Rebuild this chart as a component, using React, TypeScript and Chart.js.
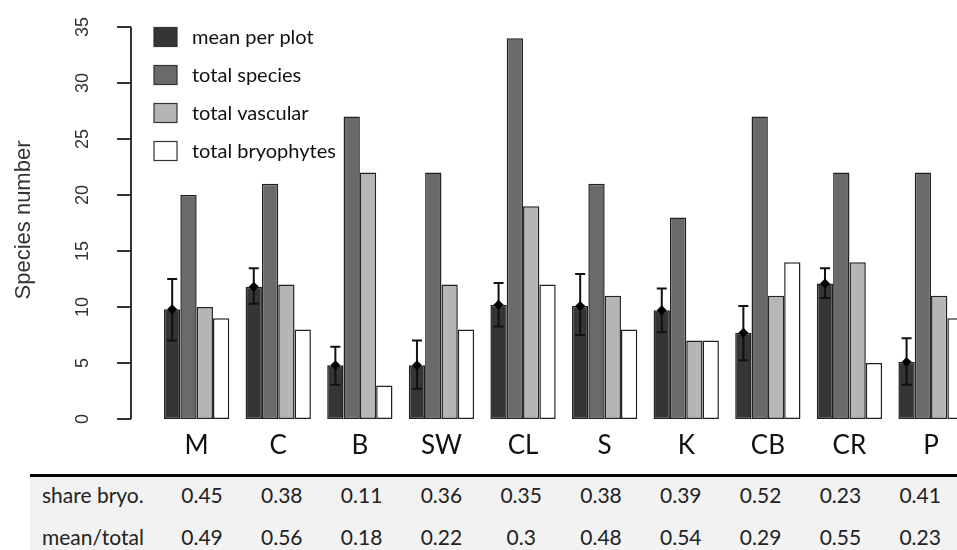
import React, { useEffect, useRef } from "react";
import { Chart, registerables } from "chart.js";

Chart.register(...registerables);

const categories = ["M", "C", "B", "SW", "CL", "S", "K", "CB", "CR", "P"];
const meanPerPlot = [9.8, 11.8, 4.8, 4.8, 10.2, 10.1, 9.7, 7.7, 12.1, 5.1];
const meanLow = [7.0, 10.3, 3.05, 2.7, 8.25, 7.5, 7.75, 5.25, 10.8, 3.05];
const meanHigh = [12.5, 13.45, 6.45, 7.0, 12.15, 12.95, 11.65, 10.1, 13.45, 7.2];
const totalSpecies = [20, 21, 27, 22, 34, 21, 18, 27, 22, 22];
const totalVascular = [10, 12, 22, 12, 19, 11, 7, 11, 14, 11];
const totalBryophytes = [9, 8, 3, 8, 12, 8, 7, 14, 5, 9];
const yTicks = [0, 5, 10, 15, 20, 25, 30, 35];
const seriesNames = ["mean per plot", "total species", "total vascular", "total bryophytes"];
const seriesColors = ["#353535", "#6a6a6a", "#b5b5b5", "#ffffff"];
const rowLabels = ["share bryo.", "mean/total"];
const shareBryo = ["0.45", "0.38", "0.11", "0.36", "0.35", "0.38", "0.39", "0.52", "0.23", "0.41"];
const meanTotal = ["0.49", "0.56", "0.18", "0.22", "0.3", "0.48", "0.54", "0.29", "0.55", "0.23"];

const AXIS_FONT = '"Liberation Sans", Arial, sans-serif';
const LABEL_FONT = 'Lato, "Open Sans", sans-serif';

const decor = {
  id: "decor",
  afterDatasetsDraw(chart: any) {
    const ctx = chart.ctx;
    const y = chart.scales.y;
    const x = chart.scales.x;
    const meta = chart.getDatasetMeta(0);
    ctx.save();
    // error bars
    ctx.strokeStyle = "#111";
    ctx.fillStyle = "#000";
    ctx.lineWidth = 2;
    meta.data.forEach((bar: any, i: number) => {
      const bx = bar.x;
      const yl = y.getPixelForValue(meanLow[i]);
      const yh = y.getPixelForValue(meanHigh[i]);
      ctx.beginPath();
      ctx.moveTo(bx, yl);
      ctx.lineTo(bx, yh);
      ctx.moveTo(bx - 5, yl);
      ctx.lineTo(bx + 5, yl);
      ctx.moveTo(bx - 5, yh);
      ctx.lineTo(bx + 5, yh);
      ctx.stroke();
      const ym = y.getPixelForValue(meanPerPlot[i]);
      ctx.beginPath();
      ctx.moveTo(bx, ym - 5);
      ctx.lineTo(bx + 5, ym);
      ctx.lineTo(bx, ym + 5);
      ctx.lineTo(bx - 5, ym);
      ctx.closePath();
      ctx.fill();
    });
    // y axis
    const axX = 131;
    ctx.strokeStyle = "#333";
    ctx.lineWidth = 2;
    ctx.beginPath();
    ctx.moveTo(axX, y.getPixelForValue(yTicks[0]));
    ctx.lineTo(axX, y.getPixelForValue(yTicks[yTicks.length - 1]));
    yTicks.forEach((t) => {
      const py = y.getPixelForValue(t);
      ctx.moveTo(117, py);
      ctx.lineTo(axX, py);
    });
    ctx.stroke();
    ctx.fillStyle = "#333";
    ctx.font = `18px ${AXIS_FONT}`;
    ctx.textAlign = "center";
    ctx.textBaseline = "middle";
    yTicks.forEach((t) => {
      const py = y.getPixelForValue(t);
      ctx.save();
      ctx.translate(83, py);
      ctx.rotate(-Math.PI / 2);
      ctx.fillText(String(t), 0, 0);
      ctx.restore();
    });
    ctx.save();
    ctx.font = `22px ${AXIS_FONT}`;
    ctx.translate(24, (y.getPixelForValue(0) + y.getPixelForValue(35)) / 2 - 3);
    ctx.rotate(-Math.PI / 2);
    ctx.fillText("Species number", 0, 0);
    ctx.restore();
    // category labels
    ctx.fillStyle = "#111";
    ctx.font = `26px ${LABEL_FONT}`;
    categories.forEach((c, i) => {
      ctx.fillText(c, x.getPixelForValue(i), 446);
    });
    // legend
    ctx.font = `20px ${LABEL_FONT}`;
    ctx.textAlign = "left";
    seriesNames.forEach((name, i) => {
      const cy = 37 + i * 38;
      ctx.fillStyle = seriesColors[i];
      ctx.fillRect(154, cy - 9.5, 23, 19);
      ctx.strokeStyle = "#333";
      ctx.lineWidth = 1.2;
      ctx.strokeRect(154, cy - 9.5, 23, 19);
      ctx.fillStyle = "#111";
      ctx.fillText(name, 192, cy + 1);
    });
    ctx.restore();
  },
};

export default function App() {
  const ref = useRef<HTMLCanvasElement>(null);
  useEffect(() => {
    const canvas = ref.current!;
    const seriesData = [meanPerPlot, totalSpecies, totalVascular, totalBryophytes];
    const chart = new Chart(canvas, {
      type: "bar",
      data: {
        labels: categories,
        datasets: seriesNames.map((name, i) => ({
          label: name,
          data: seriesData[i],
          backgroundColor: seriesColors[i],
          borderColor: "#222",
          borderWidth: 1.5,
          borderSkipped: false,
          categoryPercentage: 0.8,
          barPercentage: 1,
        })),
      },
      options: {
        responsive: false,
        maintainAspectRatio: false,
        animation: false,
        devicePixelRatio: 1,
        layout: { padding: { left: 155.85, right: 18.15, top: 27, bottom: 51 } },
        plugins: { legend: { display: false }, tooltip: { enabled: false } },
        scales: {
          x: { display: false, offset: true },
          y: { display: false, min: 0, max: 35 },
        },
      },
      plugins: [decor],
    });
    return () => chart.destroy();
  }, []);

  const colCenter = (i: number) => 202 + i * 79.8;
  const rows = [shareBryo, meanTotal];
  const rowCenters = [495, 537];

  return (
    <div
      style={{
        position: "fixed",
        left: 0,
        top: 0,
        width: 957,
        height: 550,
        overflow: "hidden",
        background: "#fff",
      }}
    >
      <canvas ref={ref} width={990} height={470} style={{ display: "block", width: 990, height: 470 }} />
      <div style={{ position: "absolute", left: 30, top: 474, width: 927, height: 3, background: "#000" }} />
      <div style={{ position: "absolute", left: 30, top: 477, width: 927, height: 73, background: "#f2f2f2" }} />
      {rows.map((vals, r) => (
        <React.Fragment key={r}>
          <span
            style={{
              position: "absolute",
              left: 42,
              top: rowCenters[r] - 12,
              lineHeight: "24px",
              fontSize: 21,
              fontFamily: LABEL_FONT,
              color: "#222",
              whiteSpace: "nowrap",
            }}
          >
            {rowLabels[r]}
          </span>
          {vals.map((v, i) => (
            <span
              key={i}
              style={{
                position: "absolute",
                left: colCenter(i),
                top: rowCenters[r] - 12,
                transform: "translateX(-50%)",
                lineHeight: "24px",
                fontSize: 21,
                fontFamily: LABEL_FONT,
                color: "#222",
                whiteSpace: "nowrap",
              }}
            >
              {v}
            </span>
          ))}
        </React.Fragment>
      ))}
    </div>
  );
}
